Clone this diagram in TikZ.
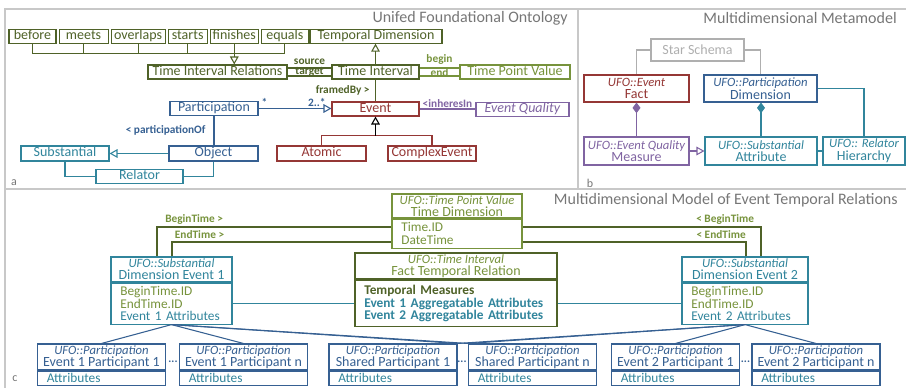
\documentclass[tikz,border=0pt]{standalone}
\usepackage{fontspec}
\setmainfont{Carlito}
\usepackage{tikz}
\usetikzlibrary{arrows.meta,positioning}
\definecolor{darkolive}{RGB}{79,98,40}
\definecolor{lightolive}{RGB}{119,147,60}
\definecolor{evred}{RGB}{149,55,53}
\definecolor{partblue}{RGB}{54,96,146}
\definecolor{subteal}{RGB}{49,133,156}
\definecolor{qualpurple}{RGB}{128,100,162}
\definecolor{framegray}{RGB}{200,200,200}
\definecolor{stargray}{RGB}{175,175,175}
\definecolor{titlegray}{RGB}{118,118,118}
\newcommand{\ufo}[1]{{\fontsize{9.5}{9}\selectfont\itshape UFO::#1}}
\tikzstyle{box}=[draw, thick, fill=white, inner xsep=1pt, inner ysep=0.5pt, font=\fontsize{10.5}{10}\selectfont]
\tikzstyle{single}=[box, text height=7pt, text depth=2pt]
\tikzstyle{double}=[box, align=center, font=\fontsize{10.5}{9.5}\selectfont]
\tikzstyle{head}=[box, align=center, font=\fontsize{10.5}{9}\selectfont]
\tikzstyle{body}=[box, inner xsep=7pt, align=left, font=\fontsize{10}{9.4}\selectfont]
\tikzstyle{role}=[inner sep=1pt, font=\fontsize{8.5}{8.5}\selectfont\bfseries]
\tikzstyle{title}=[anchor=east, inner sep=0pt, text=titlegray, font=\fontsize{12}{12}\selectfont]
\tikzstyle{panel}=[inner sep=0pt, text=titlegray, font=\fontsize{9}{9}\selectfont]
\tikzstyle{gen}=[-{Triangle[open,length=6pt,width=6.5pt]}]
\tikzstyle{comp}=[-{Diamond[length=8pt,width=6pt]}]
\tikzstyle{tline}=[line width=2pt, darkolive]
\tikzstyle{tempoc}=[draw=darkolive, text=darkolive]
\tikzstyle{pointc}=[draw=lightolive, text=lightolive]
\tikzstyle{evtc}=[draw=evred, text=evred]
\tikzstyle{partc}=[draw=partblue, text=partblue]
\tikzstyle{substc}=[draw=subteal, text=subteal]
\tikzstyle{qualc}=[draw=qualpurple, text=qualpurple]
\tikzstyle{starc}=[draw=stargray, text=stargray]

\begin{document}
\begin{tikzpicture}[x=0.75pt, y=-0.75pt]
\useasboundingbox (0,0) rectangle (906,388);
% frames
\draw[framegray, line width=1.2pt] (5,388) -- (5,9) -- (906,9);
\draw[framegray, line width=1.2pt] (5,189) -- (906,189);
\draw[framegray, line width=1.2pt] (578,9) -- (578,189);
\node[title] (ttla) at (568,18) {Unifed Foundational Ontology};
\node[title] (ttlb) at (897,18) {Multidimensional Metamodel};
\node[title] (ttlc) at (898,200) {Multidimensional Model of Event Temporal Relations};
\node[panel] (pa) at (14,183) {a};
\node[panel] (pb) at (590,183) {b};
\node[panel] (pc) at (15,379) {c};

% a: unified foundational ontology
\node[single, tempoc, minimum width=35.25pt] (before) at (32.5,36.5) {before};
\node[single, tempoc, minimum width=36.75pt, right=1.5pt of before] (meets) {meets};
\node[single, tempoc, minimum width=40.5pt, right=1.5pt of meets] (overlaps) {overlaps};
\node[single, tempoc, minimum width=29.25pt, right=1.5pt of overlaps] (starts) {starts};
\node[single, tempoc, minimum width=36pt, right=1.5pt of starts] (finishes) {finishes};
\node[single, tempoc, minimum width=35.25pt, right=1.5pt of finishes] (equals) {equals};
\node[single, tempoc, minimum width=104.25pt, minimum height=10.5pt] (tir) at (217.5,72) {Time Interval Relations};
\node[single, tempoc, minimum width=65.25pt, minimum height=10.5pt] (ti) at (375.5,72) {Time Interval};
\node[single, pointc, minimum width=82.5pt, minimum height=10.5pt] (tpv) at (515,72) {Time Point Value};
\node[single, tempoc, minimum width=99pt, minimum height=10pt] (td) at (376,36.5) {Temporal Dimension};
\node[single, partc, minimum width=66pt] (part) at (214,108.5) {Participation};
\node[single, evtc, minimum width=65.25pt, minimum height=10.5pt] (event) at (375.5,109) {Event};
\node[single, qualc, minimum width=69.75pt] (quality) at (522.5,109.5) {\textit{Event Quality}};
\node[single, evtc, minimum width=66.75pt, minimum height=11.25pt] (atomic) at (321.5,153.5) {Atomic};
\node[single, evtc, minimum width=66pt, minimum height=11.25pt] (complex) at (432,153.5) {ComplexEvent};
\node[single, partc, minimum width=66.75pt, minimum height=11.25pt] (object) at (213.5,153.5) {Object};
\node[single, substc, minimum width=66pt, minimum height=11.25pt] (subst) at (65,153.5) {Substantial};
\node[single, substc, minimum width=65.25pt] (relator) at (139.5,176.5) {Relator};

\coordinate[below=7.5pt of finishes] (relbus);
\draw[thick, darkolive] (before.south) |- (relbus) -| (equals.south);
\draw[thick, darkolive] (meets.south) -- (meets.south |- relbus);
\draw[thick, darkolive] (overlaps.south) -- (overlaps.south |- relbus);
\draw[thick, darkolive] (starts.south) -- (starts.south |- relbus);
\draw[thick, darkolive, gen] (finishes.south) -- (finishes.south |- tir.north);
\draw[thick, darkolive, gen] (ti.north) -- (ti.north |- td.south);
\draw[thick, darkolive] ([yshift=3pt]tir.east) -- node[role, above=1.5pt, text=darkolive] {source} ([yshift=3pt]ti.west);
\draw[thick, darkolive] ([yshift=-3pt]tir.east) -- node[role, above, inner sep=0pt, yshift=-0.5pt, text=darkolive] {target} ([yshift=-3pt]ti.west);
\draw[thick, lightolive] ([yshift=3pt]ti.east) -- node[role, above=1.5pt, text=lightolive] {begin} ([yshift=3pt]tpv.west);
\draw[thick, lightolive] ([yshift=-3pt]ti.east) -- node[role, above, inner sep=0pt, yshift=-0.5pt, text=lightolive] {end} ([yshift=-3pt]tpv.west);
\draw[thick, darkolive] (ti.south) -- node[role, left=3pt, text=darkolive] {framedBy >} (ti.south |- event.north);
\draw[thick, partblue, gen] (part.east) -- node[role, above, pos=0.08, text=partblue] {*}
  node[role, above, pos=0.8, text=partblue] {2..*} (part.east -| event.west);
\draw[thick, qualpurple] (event.east) -- node[role, above, text=qualpurple] {<inheresIn} (event.east -| quality.west);
\coordinate[below=14.25pt of event] (evbus);
\draw[thick, evred] (atomic.north) |- (evbus) -| (complex.north);
\draw[thick, gen] (evbus) -- (event.south);
\draw[thick, partblue] (part.south) -- node[role, left=5pt, text=partblue] {< participationOf} (part.south |- object.north);
\draw[thick, subteal, gen] (object.west) -- (subst.east);
\draw[thick, subteal] (subst.south) |- (relator.west);
\draw[thick, subteal] (relator.east) -| (object.south);

% b: multidimensional metamodel
\node[double, starc, minimum width=69.75pt, minimum height=16.5pt] (star) at (697.5,50) {Star Schema};
\node[double, evtc, minimum width=78.75pt, minimum height=20.25pt] (fact) at (636.5,88.5) {\ufo{Event}\\Fact};
\node[double, partc, minimum width=84.75pt, minimum height=20.25pt] (dim) at (760.5,88.5) {\ufo{Participation}\\Dimension};
\node[double, qualc, minimum width=78.75pt, minimum height=21pt] (measure) at (636.5,151) {\ufo{Event Quality}\\Measure};
\node[double, substc, minimum width=84pt, minimum height=21pt] (attr) at (761,151) {\ufo{Substantial}\\Attribute};
\node[double, substc, minimum width=61.5pt, minimum height=21pt] (hier) at (864,151) {\ufo{ Relator}\\Hierarchy};
\draw[thick, stargray] (star.west) -| (fact.north);
\draw[thick, stargray] (star.east) -| (dim.north);
\draw[thick, subteal] (dim.east) -| (hier.north);
\draw[thick, qualpurple, comp] (measure.north) -- (fact.south);
\draw[thick, subteal, comp] (attr.north) -- (attr.north |- dim.south);
\draw[thick, qualpurple, gen] (measure.east) -- (attr.west);
\draw[thick, subteal] (attr.east) -- (hier.west);

% c: model of event temporal relations
\node[head, pointc, minimum width=97.5pt, minimum height=18pt] (tdim) at (457,206) {\ufo{Time Point Value}\\Time Dimension};
\node[body, pointc, text width=83.5pt, minimum height=21.75pt, below=0pt of tdim] (tdimb) {Time.ID\\DateTime};
\node[head, pointc, draw=darkolive, line width=1.2pt, minimum width=151.5pt, minimum height=19.5pt] (ftr) at (456,266) {\ufo{Time Interval}\\Fact Temporal Relation};
\node[body, draw=darkolive, line width=1.2pt, text width=137.5pt, minimum height=34.5pt, below=0pt of ftr,
  font=\fontsize{10}{9.4}\selectfont\bfseries] (ftrb)
  {\textcolor{darkolive}{Temporal Measures}\\\textcolor{subteal}{Event 1 Aggregatable Attributes}\\\textcolor{subteal}{Event 2 Aggregatable Attributes}};
\node[head, substc, minimum width=90.75pt, minimum height=18.75pt] (ev1) at (171.5,269.5) {\ufo{Substantial}\\Dimension Event 1};
\node[body, substc, text width=76.75pt, minimum height=30.75pt, below=0pt of ev1] (ev1b)
  {\textcolor{lightolive}{BeginTime.ID}\\\textcolor{lightolive}{EndTime.ID}\\Event 1 Attributes};
\node[head, substc, minimum width=94.5pt, minimum height=18.75pt] (ev2) at (745,269.5) {\ufo{Substantial}\\Dimension Event 2};
\node[body, substc, text width=80.5pt, minimum height=30.75pt, below=0pt of ev2] (ev2b)
  {\textcolor{lightolive}{BeginTime.ID}\\\textcolor{lightolive}{EndTime.ID}\\Event 2 Attributes};

\node[head, partc, minimum width=96pt, minimum height=19.5pt] (p11) at (101.5,357) {\ufo{Participation}\\Event 1 Participant 1};
\node[body, partc, text=subteal, text width=82pt, minimum height=10.5pt, below=0pt of p11] (p11b) {Attributes};
\node[head, partc, minimum width=96pt, minimum height=19.5pt] (p1n) at (243.5,357) {\ufo{Participation}\\Event 1 Participant n};
\node[body, partc, text=subteal, text width=82pt, minimum height=10.5pt, below=0pt of p1n] (p1nb) {Attributes};
\node[head, partc, minimum width=96pt, minimum height=19.5pt] (sp1) at (393,357) {\ufo{Participation}\\Shared Participant 1};
\node[body, partc, text=subteal, text width=82pt, minimum height=10.5pt, below=0pt of sp1] (sp1b) {Attributes};
\node[head, partc, minimum width=96pt, minimum height=19.5pt] (spn) at (532.5,357) {\ufo{Participation}\\Shared Participant n};
\node[body, partc, text=subteal, text width=82pt, minimum height=10.5pt, below=0pt of spn] (spnb) {Attributes};
\node[head, partc, minimum width=96pt, minimum height=19.5pt] (p21) at (675.5,357) {\ufo{Participation}\\Event 2 Participant 1};
\node[body, partc, text=subteal, text width=82pt, minimum height=10.5pt, below=0pt of p21] (p21b) {Attributes};
\node[head, partc, minimum width=96pt, minimum height=19.5pt] (p2n) at (816,357) {\ufo{Participation}\\Event 2 Participant n};
\node[body, partc, text=subteal, text width=82pt, minimum height=10.5pt, below=0pt of p2n] (p2nb) {Attributes};
\node[role, text=partblue] (dots1) at (173,362) {...};
\node[role, text=partblue] (dots2) at (462,362) {...};
\node[role, text=partblue] (dots3) at (745.5,362) {...};

\coordinate (bt1) at (157,227);
\coordinate (bt2) at (761,227);
\coordinate (et1) at (172,242);
\coordinate (et2) at (746,242);
\draw[tline] (ev1.north -| bt1) |- (tdimb.west |- bt1);
\draw[tline] (ev2.north -| bt2) |- (tdimb.east |- bt2);
\draw[tline] (ev1.north -| et1) |- (tdimb.west |- et1);
\draw[tline] (ev2.north -| et2) |- (tdimb.east |- et2);
\node[role, text=lightolive, anchor=south west] (lbt1) at ([xshift=5pt,yshift=1pt]bt1) {BeginTime >};
\node[role, text=lightolive, anchor=south west] (let1) at ([xshift=1pt,yshift=1pt]et1) {EndTime >};
\node[role, text=lightolive, anchor=south east] (lbt2) at ([xshift=-4pt,yshift=1pt]bt2) {< BeginTime};
\node[role, text=lightolive, anchor=south east] (let2) at ([xshift=1pt,yshift=1pt]et2) {< EndTime};

\draw[thick, subteal] (ev1b.east) -- (ev1b.east -| ftrb.west);
\draw[thick, subteal] (ev2b.west) -- (ev2b.west -| ftrb.east);
\draw[thick, partblue] (ev1b.south) -- (p11.north);
\draw[thick, partblue] (ev1b.south) -- (p1n.north);
\draw[thick, partblue] (ev1b.south) -- (sp1.north east);
\draw[thick, partblue] (ev1b.south) -- (spn.north west);
\draw[thick, partblue] (ev2b.south) -- (p21.north);
\draw[thick, partblue] (ev2b.south) -- (p2n.north);
\draw[thick, partblue] (ev2b.south) -- (sp1.north east);
\draw[thick, partblue] (ev2b.south) -- (spn.north west);
\end{tikzpicture}
\end{document}
